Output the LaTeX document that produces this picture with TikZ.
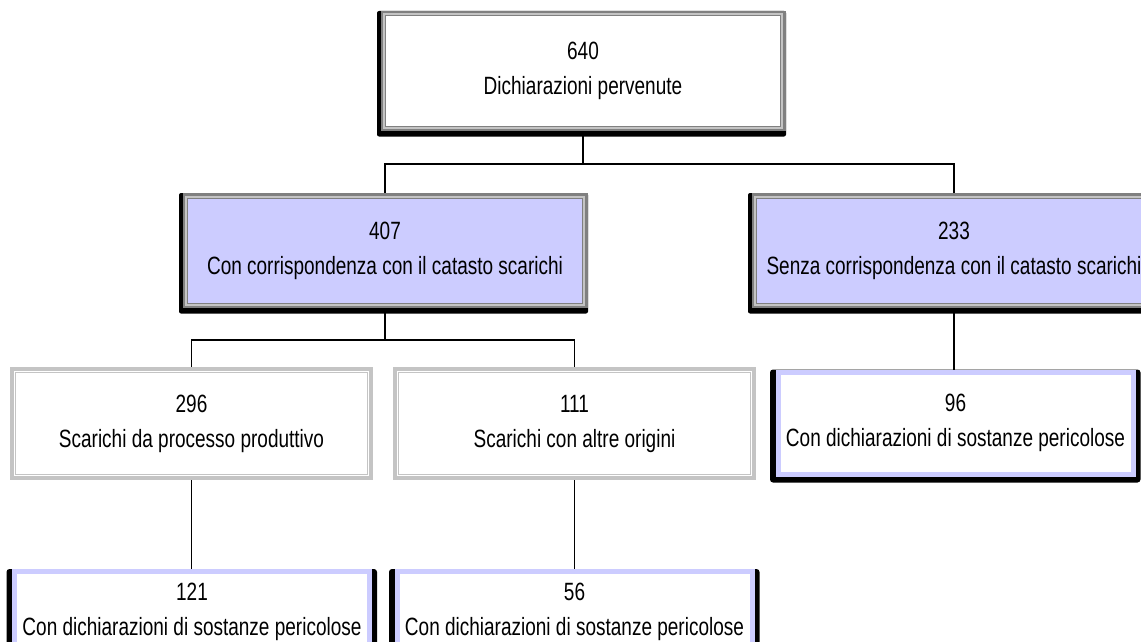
\documentclass[tikz,border=0pt]{standalone}
\usepackage{fontspec}
\setmainfont[FakeStretch=0.76]{Liberation Sans}
\usetikzlibrary{backgrounds}
\definecolor{lav}{HTML}{CCCCFF}
\definecolor{framegray}{HTML}{808080}
\definecolor{framelight}{HTML}{C4C4C4}
\begin{document}
\begin{tikzpicture}[x=1pt,y=-1pt,
  box/.style={rectangle, inner sep=0pt, align=center,
    font=\fontsize{25}{35}\selectfont},
  mainbox/.style={box, draw=framegray, line width=5pt, minimum width=400pt},
  subbox/.style={box, draw=framelight, line width=4pt, fill=white,
    minimum width=359pt, minimum height=109pt},
  leafbox/.style={box, draw=lav, line width=5pt, fill=white,
    minimum width=355pt},
  link/.style={draw=black, line width=1.4pt}]
\useasboundingbox (0,0) rectangle (1141,642);

% boxes
\node[mainbox, fill=white, minimum height=115pt] (tot) at (583,71)
  {640\\Dichiarazioni pervenute};
\node[mainbox, fill=lav, minimum height=110pt] (con) at (385,250.5)
  {407\\Con corrispondenza con il catasto scarichi};
\node[mainbox, fill=lav, minimum height=110pt] (senza) at (954,250.5)
  {233\\Senza corrispondenza con il catasto scarichi};
\node[subbox] (proc) at (191.5,423.5)
  {296\\Scarichi da processo produttivo};
\node[subbox] (altre) at (574.5,423.5)
  {111\\Scarichi con altre origini};
\node[leafbox, minimum height=102pt] (perS) at (955.5,423)
  {96\\Con dichiarazioni di sostanze pericolose};
\node[leafbox, minimum height=81pt] (perP) at (192,612)
  {121\\Con dichiarazioni di sostanze pericolose};
\node[leafbox, minimum height=81pt] (perA) at (574.5,612)
  {56\\Con dichiarazioni di sostanze pericolose};

% inner frame lines
\foreach \n in {tot,con,senza} {
  \draw[framelight, line width=2pt] ([shift={(3.5,3.5)}]\n.north west)
    rectangle ([shift={(-3.5,-3.5)}]\n.south east);
  \draw[framegray, line width=1pt] ([shift={(5,5)}]\n.north west)
    rectangle ([shift={(-5,-5)}]\n.south east);
}
\foreach \n in {proc,altre} {
  \draw[framelight, line width=1pt] ([shift={(5.5,5.5)}]\n.north west)
    rectangle ([shift={(-5.5,-5.5)}]\n.south east);
}

% connectors
\draw[link] (tot.south) -- ++(0,33) -| (con.north);
\draw[link] (tot.south) -- ++(0,33) -| (senza.north);
\draw[link] (con.south) -- ++(0,32) -| (proc.north);
\draw[link] (con.south) -- ++(0,32) -| (altre.north);
\draw[link] (senza.south) -- (senza.south |- perS.north);
\draw[link] (proc.south) -- (proc.south |- perP.north);
\draw[link] (altre.south) -- (altre.south |- perA.north);

% page and shadows
\begin{pgfonlayer}{background}
  \fill[white] (0,0) rectangle (1141,642);
  \foreach \n in {tot,con,senza}
    \fill[black, rounded corners=2pt] ([shift={(-3.5,0)}]\n.north west)
      rectangle ([shift={(0.5,5.5)}]\n.south east);
  \foreach \n in {perS,perP,perA}
    \fill[black, rounded corners=3pt] ([shift={(-5.5,0)}]\n.north west)
      rectangle ([shift={(5,6)}]\n.south east);
\end{pgfonlayer}
\end{tikzpicture}
\end{document}
